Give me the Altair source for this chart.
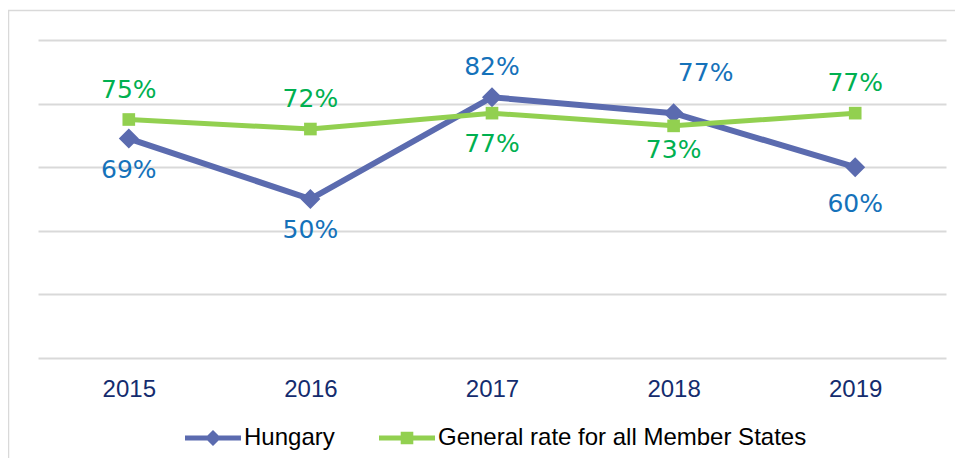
import altair as alt
import pandas as pd

years = ["2015", "2016", "2017", "2018", "2019"]
series_names = ["Hungary", "General rate for all Member States"]
hungary = [69, 50, 82, 77, 60]
general = [75, 72, 77, 73, 77]
hungary_label_pos = ["below", "below", "above", "above right", "below far"]
general_label_pos = ["above", "above", "below", "below near", "above"]
line_colors = ["#5B6BAF", "#92D050"]
label_colors = ["#1572BA", "#00B050"]
line_widths = [6, 5]
marker_shapes = ["diamond", "square"]
marker_sizes = [400, 160]

rows = []
for s, vals, pos, lc in zip(series_names, [hungary, general],
                            [hungary_label_pos, general_label_pos], label_colors):
    for yr, v, p in zip(years, vals, pos):
        rows.append({"year": yr, "series": s, "value": v, "pos": p,
                     "label": f"{v}%", "labelColor": lc})
df = pd.DataFrame(rows)

# legend symbols: line + marker
hung_sym = "M-4,-0.36H4V0.36H-4Z M0,-1.15L1.15,0L0,1.15L-1.15,0Z"
gen_sym = "M-4,-0.36H4V0.36H-4Z M-0.9,-0.9H0.9V0.9H-0.9Z"

legend = alt.Legend(
    orient="none", legendX=163, legendY=386, title=None, direction="horizontal",
    labelFont="Liberation Sans", labelFontSize=24, labelColor="#000000",
    labelLimit=800, symbolSize=196, labelOffset=19, columnPadding=41,
    symbolOpacity=1,
)

x = alt.X("year:O", axis=alt.Axis(
    title=None, labelAngle=0, labelFont="Liberation Sans", labelFontSize=24,
    labelColor="#142C6E", ticks=False, domain=False, labelPadding=19, grid=False))
y = alt.Y("value:Q", scale=alt.Scale(domain=[0, 100], nice=False, zero=True),
          axis=alt.Axis(title=None, labels=False, ticks=False, domain=False,
                        values=[0, 20, 40, 60, 80, 100], grid=True,
                        gridColor="#D9D9D9", gridWidth=2))

base = alt.Chart(df)

border = alt.Chart(pd.DataFrame({"a": [0]})).mark_rect(
    filled=False, stroke="#D9D9D9", strokeWidth=1.5
).encode(x=alt.value(-29.5), x2=alt.value(1000), y=alt.value(-29.5), y2=alt.value(500))

layers = [border]
for s, c, w, shp, sz in zip(series_names, line_colors, line_widths, marker_shapes, marker_sizes):
    sub = base.transform_filter(alt.datum.series == s)
    layers.append(sub.mark_line(strokeWidth=w, color=c).encode(x=x, y=y))
    layers.append(sub.mark_point(filled=True, shape=shp, size=sz, opacity=1, color=c).encode(
        x=x, y=y))

# legend-only layer (invisible in the plot)
layers.append(base.mark_point(filled=True, opacity=0).encode(
    x=x, y=y,
    color=alt.Color("series:N", scale=alt.Scale(domain=series_names, range=line_colors),
                    legend=legend),
    shape=alt.Shape("series:N", scale=alt.Scale(domain=series_names, range=[hung_sym, gen_sym]),
                    legend=legend),
))

offsets = {"above": (0, -30), "below": (0, 31), "above right": (32, -40),
           "below far": (0, 37), "below near": (0, 24)}
for p, (dx, dy) in offsets.items():
    layers.append(base.transform_filter(alt.datum.pos == p).mark_text(
        font="DejaVu Sans", fontSize=25, align="center", baseline="middle",
        dx=dx, dy=dy
    ).encode(x=x, y=y, text="label:N",
             fill=alt.Fill("labelColor:N", scale=None)))

chart = alt.layer(*layers).properties(
    width=908, height=318,
    autosize=alt.AutoSizeParams(type="none"),
    padding={"left": 30, "top": 32, "right": 9, "bottom": 100},
    background="#FFFFFF",
).configure_view(stroke=None)

chart.save("out.html", embed_options={"renderer": "svg", "actions": False})
